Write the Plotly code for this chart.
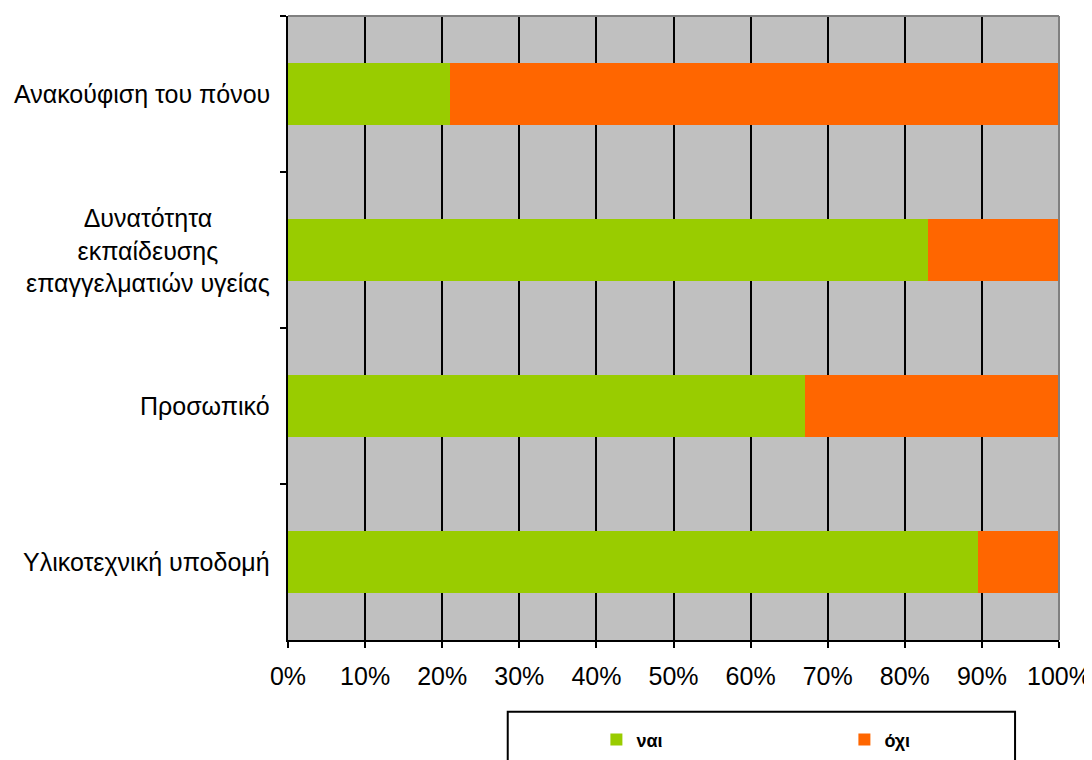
import plotly.graph_objects as go

# chart data
categories = [
    "Ανακούφιση του πόνου",
    "Δυνατότητα<br>εκπαίδευσης<br>επαγγελματιών υγείας",
    "Προσωπικό",
    "Υλικοτεχνική υποδομή",
]
nai_values = [21, 83, 67, 89.5]
oxi_values = [79, 17, 33, 10.5]
x_ticks = list(range(0, 101, 10))
x_tick_labels = [f"{v}%" for v in x_ticks]

GREEN = "#99CC00"
ORANGE = "#FF6600"
FONT = "Liberation Sans, Arial, sans-serif"

fig = go.Figure()

fig.add_trace(go.Bar(
    y=categories, x=nai_values, name="ναι", orientation="h",
    marker=dict(color=GREEN, line=dict(width=0)),
))
fig.add_trace(go.Bar(
    y=categories, x=oxi_values, name="όχι", orientation="h",
    marker=dict(color=ORANGE, line=dict(width=0)),
))

# category labels as annotations so multi-line text is centred
for cat in categories:
    fig.add_annotation(
        x=0, xref="paper", y=cat, yref="y",
        text=cat, showarrow=False,
        xanchor="right", align="center", xshift=-16,
        font=dict(family=FONT, size=25, color="black"),
    )

# grey top and right border of the plot area
fig.add_shape(type="line", xref="paper", yref="paper", x0=0, x1=1, y0=1, y1=1,
              line=dict(color="#808080", width=2))
fig.add_shape(type="line", xref="paper", yref="paper", x0=1, x1=1, y0=0, y1=1,
              line=dict(color="#808080", width=2))

# legend frame
fig.add_shape(type="rect", xref="paper", yref="paper",
              x0=0.285, x1=0.943, y0=-0.115, y1=-0.25,
              line=dict(color="black", width=2), fillcolor="rgba(0,0,0,0)")

# page body has an 8px margin, so the figure is sized/offset to compensate
fig.update_layout(
    width=1084, height=752,
    barmode="stack", bargap=0.6,
    plot_bgcolor="#C0C0C0", paper_bgcolor="white",
    margin=dict(l=280, r=33, t=8, b=120, autoexpand=False),
    font=dict(family=FONT, size=25, color="black"),
    showlegend=True,
    legend=dict(
        orientation="h", x=0.40, xanchor="left", y=-0.16, yanchor="middle",
        entrywidth=203, entrywidthmode="pixels",
        font=dict(family=FONT, size=18, weight="bold"),
        bgcolor="rgba(0,0,0,0)", traceorder="normal",
    ),
    xaxis=dict(
        range=[0, 100], tickvals=x_ticks, ticktext=x_tick_labels,
        showgrid=True, gridcolor="black", gridwidth=2,
        showline=True, linecolor="black", linewidth=2,
        ticks="outside", ticklen=6, tickwidth=2, tickcolor="black",
        tickfont=dict(family=FONT, size=25), zeroline=False,
        ticklabelstandoff=7, automargin=False,
    ),
    yaxis=dict(
        categoryorder="array", categoryarray=categories,
        autorange="reversed", tickson="boundaries",
        showticklabels=False, showgrid=False,
        showline=True, linecolor="black", linewidth=2,
        ticks="outside", ticklen=6, tickwidth=2, tickcolor="black",
        zeroline=False, automargin=False,
    ),
)

fig.write_html("out.html")
